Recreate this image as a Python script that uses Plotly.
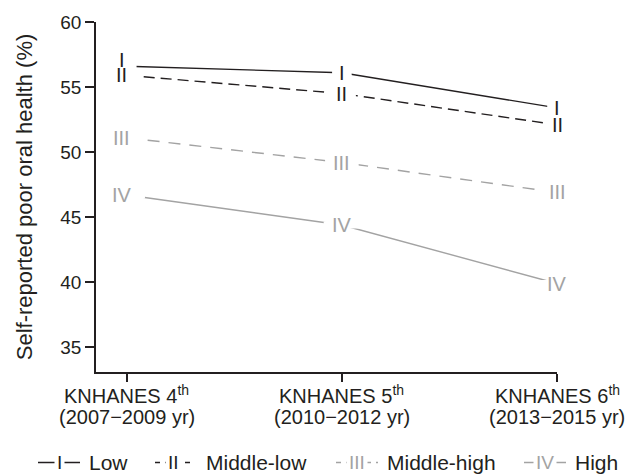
import plotly.graph_objects as go

# Survey waves (x axis)
waves = ["4", "5", "6"]
years = ["2007\u22122009", "2010\u22122012", "2013\u22122015"]

# Income groups with their roman-numeral markers
groups = ["Low", "Middle-low", "Middle-high", "High"]
numerals = ["I", "II", "III", "IV"]

# Self-reported poor oral health (%)
low = [56.6, 56.1, 53.4]
middle_low = [55.9, 54.5, 52.1]
middle_high = [51.1, 49.2, 46.9]
high = [46.7, 44.4, 39.9]

values = [low, middle_low, middle_high, high]

DARK = "#231f20"
GREY = "#a3a3a3"
FONT = "Liberation Sans, Arial, Helvetica, sans-serif"

styles = [
    dict(color=DARK, dash="solid", gap=14),
    dict(color=DARK, dash="11px,6px", gap=20),
    dict(color=GREY, dash="12px,9px", gap=24),
    dict(color=GREY, dash="solid", gap=26),
]

xs = list(range(len(waves)))

# plot area in pixels
L, R, T, B = 96, 84, 20, 102
W, H = 641, 474
PW, PH = W - L - R, H - T - B


def px(xp):
    return (xp - L) / PW


def py(yp):
    return (H - B - yp) / PH


fig = go.Figure()

for name, vals, st in zip(groups, values, styles):
    fig.add_trace(
        go.Scatter(
            x=xs,
            y=vals,
            name=name,
            mode="lines+markers",
            line=dict(color=st["color"], width=1.4, dash=st["dash"]),
            # white bars open a gap in the line where the numeral sits
            marker=dict(
                symbol="line-ew",
                size=st["gap"],
                color="white",
                line=dict(color="white", width=7),
            ),
            showlegend=False,
            hoverinfo="skip",
            cliponaxis=False,
        )
    )

annotations = []
# numerals at each point (drawn high-to-low so "I" ends up on top)
for gi in reversed(range(len(groups))):
    st = styles[gi]
    for xi, v in zip(xs, values[gi]):
        annotations.append(
            dict(
                x=xi, y=v, xref="x", yref="y",
                text=numerals[gi], showarrow=False,
                font=dict(family=FONT, size=20, color=st["color"]),
                xanchor="center", yanchor="middle",
                xshift=-5 if xi == 0 else 0,
                yshift=6 if (xi == 0 and gi == 0) else 0,
            )
        )

# two-line category labels under each tick
for xi, w, y in zip(xs, waves, years):
    annotations.append(
        dict(
            x=xi, y=py(395), xref="x", yref="paper",
            text=f"KNHANES {w}<sup>th</sup>", showarrow=False,
            font=dict(family=FONT, size=20, color=DARK),
            xanchor="center", yanchor="middle", borderpad=0,
        )
    )
    annotations.append(
        dict(
            x=xi, y=py(417), xref="x", yref="paper",
            text=f"({y} yr)", showarrow=False,
            font=dict(family=FONT, size=20, color=DARK),
            xanchor="center", yanchor="middle", borderpad=0,
        )
    )

legend_y = 463
legend_items = [
    (38, 80, 88),
    (155, 192, 205),
    (336, 378, 386),
    (524, 566, 574),
]
shapes = []
for gi, (x0, x1, xt) in enumerate(legend_items):
    st = styles[gi]
    shapes.append(
        dict(
            type="line", xref="paper", yref="paper",
            x0=px(x0), x1=px(x1), y0=py(legend_y), y1=py(legend_y),
            line=dict(color=st["color"], width=1.4,
                      dash="solid" if st["dash"] == "solid" else "5px,5px"),
        )
    )
    annotations.append(
        dict(
            x=px((x0 + x1) / 2), y=py(legend_y), xref="paper", yref="paper",
            text=numerals[gi], showarrow=False, bgcolor="white", borderpad=2,
            font=dict(family=FONT, size=19, color=st["color"]),
            xanchor="center", yanchor="middle",
        )
    )
    annotations.append(
        dict(
            x=px(xt), y=py(legend_y), xref="paper", yref="paper",
            text=groups[gi], showarrow=False, borderpad=0,
            font=dict(family=FONT, size=21, color=DARK),
            xanchor="left", yanchor="middle",
        )
    )

fig.update_layout(
    width=W,
    height=H,
    margin=dict(l=L, r=R, t=T, b=B),
    paper_bgcolor="white",
    plot_bgcolor="white",
    showlegend=False,
    font=dict(family=FONT, color=DARK),
    annotations=annotations,
    shapes=shapes,
)

fig.update_xaxes(
    range=[-0.143, 2.0],
    tickvals=xs,
    showticklabels=False,
    showline=True,
    linecolor=DARK,
    linewidth=1.5,
    ticks="outside",
    ticklen=8,
    tickwidth=1.5,
    tickcolor=DARK,
    showgrid=False,
    zeroline=False,
)

fig.update_yaxes(
    range=[33.1, 60],
    tickvals=[35, 40, 45, 50, 55, 60],
    tickfont=dict(family=FONT, size=19, color=DARK),
    title=dict(text="Self-reported poor oral health (%)",
               font=dict(family=FONT, size=22, color=DARK), standoff=22),
    showline=True,
    linecolor=DARK,
    linewidth=1.5,
    ticks="outside",
    ticklen=9,
    tickwidth=1.5,
    tickcolor=DARK,
    showgrid=False,
    zeroline=False,
)

fig.write_html("out.html")
